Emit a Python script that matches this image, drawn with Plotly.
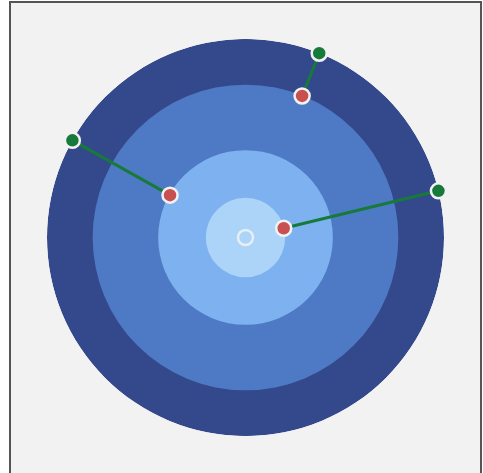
import plotly.graph_objects as go

# Ring boundaries (outer to inner)
ring_radii = [100, 77, 44, 20]
ring_colors = ["#34498c", "#4e7ac5", "#7eb1ef", "#acd4f8"]

# Connected point pairs: inner (red) and outer (green) at the same angle
angles = [150.7, 68.2, 13.6]
inner_r = [43.6, 76.8, 19.8]
outer_r = [100, 100, 100]

fig = go.Figure()

for r, c in zip(ring_radii, ring_colors):
    fig.add_trace(go.Barpolar(r=[r], theta=[0], width=[360], marker=dict(color=c, line=dict(width=0)),
                              hoverinfo="skip", showlegend=False))

for a, ri, ro in zip(angles, inner_r, outer_r):
    fig.add_trace(go.Scatterpolar(r=[ri, ro], theta=[a, a], mode="lines",
                                  line=dict(color="#177a3a", width=3), showlegend=False))

fig.add_trace(go.Scatterpolar(r=inner_r, theta=angles, mode="markers",
                              marker=dict(size=15, color="#c85050", line=dict(color="#f2f2f2", width=2.5)),
                              showlegend=False))
fig.add_trace(go.Scatterpolar(r=outer_r, theta=angles, mode="markers",
                              marker=dict(size=15, color="#177a3a", line=dict(color="#f2f2f2", width=2.5)),
                              showlegend=False))
fig.add_trace(go.Scatterpolar(r=[0], theta=[0], mode="markers",
                              marker=dict(size=15, color="#acd4f8", line=dict(color="#e6eef8", width=2.5)),
                              showlegend=False))

W, H = 483, 473
cx, cy, R = 245.5, 237.5, 198.5
fig.update_layout(
    width=W, height=H,
    margin=dict(l=0, r=0, t=0, b=0),
    paper_bgcolor="white",
    polar=dict(
        domain=dict(x=[(cx - R) / W, (cx + R) / W], y=[(H - cy - R) / H, (H - cy + R) / H]),
        bgcolor="rgba(0,0,0,0)",
        barmode="overlay",
        bargap=0,
        radialaxis=dict(range=[0, 100], visible=False, showgrid=False),
        angularaxis=dict(visible=False, showgrid=False, showline=False),
    ),
    shapes=[dict(type="rect", xref="paper", yref="paper", x0=10 / W, x1=481 / W, y0=-0.05, y1=1 - 2 / H,
                 fillcolor="#f2f2f2", line=dict(color="#555555", width=2), layer="below")],
)

fig.write_html("out.html", config={"displayModeBar": False},
               post_script="document.body.style.margin='0';document.body.style.overflow='hidden';")
